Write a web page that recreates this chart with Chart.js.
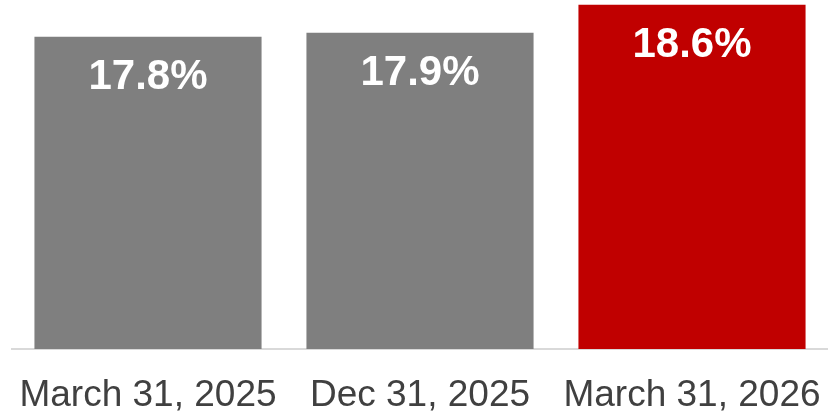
<!DOCTYPE html>
<html>
<head>
<meta charset="utf-8">
<script src="https://cdn.jsdelivr.net/npm/chart.js@4"></script>
<style>
    html, body { margin: 0; padding: 0; background: #ffffff; }
    #wrap { width: 828px; height: 415px; position: relative; }
</style>
</head>
<body>
<div id="wrap"><canvas id="ratioChart"></canvas></div>
<script>
const categories = ['March 31, 2025', 'Dec 31, 2025', 'March 31, 2026'];
const ratioValues = [17.8, 17.9, 18.6];
const barColors = ['#7f7f7f', '#7f7f7f', '#c00000'];

// etiquetas blancas dentro de cada barra, cerca del borde superior
const barLabels = {
    id: 'barLabels',
    afterDatasetsDraw(chart) {
        const ctx = chart.ctx;
        const meta = chart.getDatasetMeta(0);
        ctx.save();
        ctx.fillStyle = '#ffffff';
        ctx.font = 'bold 42px "Liberation Sans", Arial, sans-serif';
        ctx.textAlign = 'center';
        ctx.textBaseline = 'alphabetic';
        meta.data.forEach((bar, i) => {
            ctx.fillText(ratioValues[i].toFixed(1) + '%', bar.x, bar.y + 52);
        });
        ctx.restore();
    }
};

const ctx = document.getElementById('ratioChart').getContext('2d');
new Chart(ctx, {
    type: 'bar',
    data: {
        labels: categories,
        datasets: [{
            data: ratioValues,
            backgroundColor: barColors,
            borderWidth: 0,
            categoryPercentage: 1,
            barPercentage: 0.835
        }]
    },
    options: {
        responsive: true,
        maintainAspectRatio: false,
        animation: false,
        layout: { padding: { left: 12, right: 0, top: 0, bottom: 0 } },
        plugins: {
            legend: { display: false },
            tooltip: { enabled: false }
        },
        scales: {
            x: {
                grid: { display: false, drawTicks: false },
                border: { display: true, color: '#d9d9d9', width: 2 },
                ticks: {
                    color: '#404040',
                    padding: 25,
                    maxRotation: 0,
                    font: { family: '"Liberation Sans", Arial, sans-serif', size: 37 }
                },
                afterFit(scale) {
                    scale.height = 66;
                    scale.paddingLeft = 0;
                    scale.paddingRight = 0;
                }
            },
            y: {
                display: false,
                min: 10,
                max: 18.72
            }
        }
    },
    plugins: [barLabels]
});
</script>
</body>
</html>
